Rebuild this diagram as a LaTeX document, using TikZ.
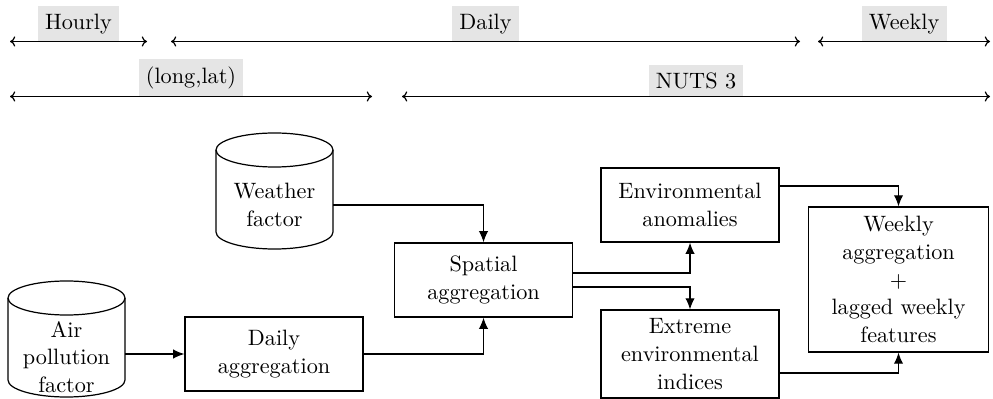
\documentclass[tikz,border=0pt]{standalone}
\usetikzlibrary{arrows.meta}

\tikzset{
  txt/.style={font=\fontsize{10.95}{13.6}\selectfont},
  outline/.style={line width=0.6pt},
  procbox/.style={txt, draw, outline, align=center,
    minimum width=87.7pt, minimum height=36.5pt},
  dbtext/.style={txt, align=center, inner sep=0pt, minimum width=57.6pt},
  flow/.style={line width=0.6pt, -{Latex[length=5.5pt,width=4.6pt]}},
  span/.style={line width=0.6pt, {To[length=2.6pt,width=5pt]}-{To[length=2.6pt,width=5pt]}},
  scalelabel/.style={txt, fill=black!10, inner sep=3.6pt, anchor=south}
}

% database cylinder around a text node: #1 node, #2 / #3 offsets of the
% top and bottom end centres from the text centre
\newcommand{\dbcylinder}[3]{%
  \draw[outline] ([shift={(0,#2)}]#1.center) ellipse [x radius=58.5, y radius=17];
  \draw[outline] ([shift={(-58.5,#2)}]#1.center) -- ([shift={(-58.5,#3)}]#1.center)
    arc [start angle=180, end angle=0, x radius=58.5, y radius=17]
    -- ([shift={(58.5,#2)}]#1.center);
}

\begin{document}
\begin{tikzpicture}[x=0.4926pt, y=-0.4926pt]
  \useasboundingbox (0,0) rectangle (993,399);

  % temporal resolution
  \coordinate (h1) at (10,41.5);   \coordinate (h2) at (147,41.5);
  \coordinate (d1) at (171,41.5);  \coordinate (d2) at (800,41.5);
  \coordinate (w1) at (818,41.5);  \coordinate (w2) at (990,41.5);
  \draw[span] (h1) -- node[scalelabel] (lh) {Hourly} (h2);
  \draw[span] (d1) -- node[scalelabel] (ld) {Daily} (d2);
  \draw[span] (w1) -- node[scalelabel] (lw) {Weekly} (w2);

  % spatial resolution
  \coordinate (s1) at (10,96.5);   \coordinate (s2) at (372,96.5);
  \coordinate (n1) at (402,96.5);  \coordinate (n2) at (990,96.5);
  \draw[span] (s1) -- node[scalelabel] (ls) {(long,lat)} (s2);
  \draw[span] (n1) -- node[scalelabel] (ln) {NUTS 3} (n2);

  % data sources
  \node[dbtext] (weather) at (274.5,205) {Weather\\factor};
  \dbcylinder{weather}{-55}{27}
  \node[dbtext] (air) at (66.5,357) {Air\\pollution\\factor};
  \dbcylinder{air}{-59}{23}

  % processing steps
  \node[procbox] (daily) at (274,354) {Daily\\aggregation};
  \node[procbox] (spatial) at (483.5,280) {Spatial\\aggregation};
  \node[procbox] (anom) at (690,205) {Environmental\\anomalies};
  \node[procbox, minimum height=43.3pt] (ext) at (690,354) {Extreme\\environmental\\indices};
  \node[procbox, minimum width=88.7pt, minimum height=71.4pt] (weekly) at (898.5,279.5)
    {Weekly\\aggregation\\+\\lagged weekly\\features};

  % connectors
  \draw[flow] (air.east |- daily.west) -- (daily.west);
  \draw[flow] (daily.east) -| (spatial.south);
  \draw[flow] (weather.east) -| (spatial.north);
  \draw[flow] ([yshift=3.45pt]spatial.east) -| (anom.south);
  \draw[flow] ([yshift=-3.45pt]spatial.east) -| (ext.north);
  \draw[flow] ([yshift=9.4pt]anom.east) -| (weekly.north);
  \draw[flow] ([yshift=-9.4pt]ext.east) -| (weekly.south);
\end{tikzpicture}
\end{document}
